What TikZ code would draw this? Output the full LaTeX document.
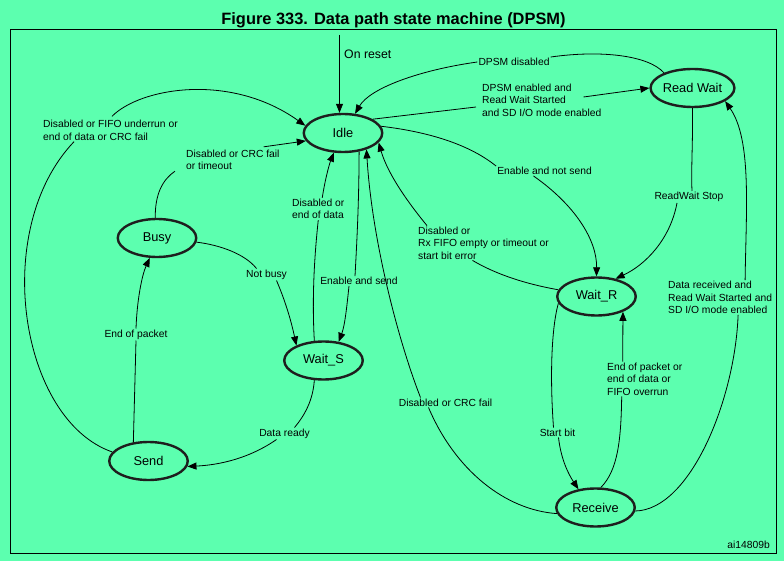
\documentclass[tikz,border=0pt]{standalone}
\usepackage{fontspec}
\setmainfont{Liberation Sans}
\usetikzlibrary{shapes.geometric,arrows.meta,calc}
\definecolor{bgc}{HTML}{5CFFAF}
\definecolor{ringc}{HTML}{1E1E1E}
\begin{document}
\begin{tikzpicture}[x=1pt,y=-1pt,
  state/.style={ellipse,draw=ringc,line width=2.4pt,minimum width=78.5pt,minimum height=38pt,inner sep=0pt,
    font=\fontsize{12.8}{15}\selectfont},
  lbl/.style={inner sep=1pt,align=left,font=\fontsize{10.3}{12.4}\selectfont},
  ln/.style={line width=0.8pt},
  arr/.style={line width=0.8pt,-{Triangle[length=9pt,width=7pt]}}]
\fill[bgc] (0,0) rectangle (784,561);
\useasboundingbox (0,0) rectangle (784,561);
\draw[line width=1pt] (10.5,30) rectangle (776,553);
\node[anchor=base,font=\bfseries\fontsize{16.4}{18}\selectfont] (title) at (393.5,25) {Figure 333. Data path state machine (DPSM)};

% states
\node[state] (idle) at (343,133) {Idle};
\node[state] (rw) at (692.5,88) {Read Wait};
\node[state] (busy) at (157,238) {Busy};
\node[state] (ws) at (323.5,360.5) {Wait\_S};
\node[state] (wr) at (596.5,296.5) {Wait\_R};
\node[state] (send) at (148.5,461) {Send};
\node[state] (rcv) at (595.5,507.5) {Receive};

% labels
\node[lbl,anchor=west,font=\fontsize{12.3}{14}\selectfont] (lOr) at (343,54) {On reset};
\node[lbl] (lDd) at (514,62) {DPSM disabled};
\node[lbl,anchor=west] (lRW) at (481,100) {DPSM enabled and\\Read Wait Started\\and SD I/O mode enabled};
\node[lbl] (lEns) at (544.5,171) {Enable and not send};
\node[lbl] (lRS) at (689,197) {ReadWait Stop};
\node[lbl,anchor=west] (lRx) at (417,243) {Disabled or\\Rx FIFO empty or timeout or\\start bit error};
\node[lbl,anchor=west] (lDr) at (667,297.5) {Data received and\\Read Wait Started and\\SD I/O mode enabled};
\node[lbl] (lSb) at (557.5,432.5) {Start bit};
\node[lbl,anchor=west] (lEp) at (606,379) {End of packet or\\end of data or\\FIFO overrun};
\node[lbl] (lDc) at (445.5,402.5) {Disabled or CRC fail};
\node[lbl] (lEs) at (359,281) {Enable and send};
\node[lbl,anchor=west] (lDe) at (291,209) {Disabled or\\end of data};
\node[lbl] (lNb) at (266.5,274.5) {Not busy};
\node[lbl,anchor=west] (lBc) at (185,160) {Disabled or CRC fail\\or timeout};
\node[lbl,anchor=west] (lDf) at (42,130.5) {Disabled or FIFO underrun or\\end of data or CRC fail};
\node[lbl] (lEoP) at (136,334.5) {End of packet};
\node[lbl] (lDry) at (284.5,433.5) {Data ready};
\node[lbl,anchor=east] (lai) at (771,545) {ai14809b};

% on reset
\coordinate (reset) at (339.5,35);
\draw[arr] (reset) -- (reset |- idle.north);

% Read Wait -> Idle : DPSM disabled
\draw[ln] (rw.152) .. controls (648,55) and (600,50) .. (lDd.north east);
\draw[arr] (lDd.west) .. controls (420,70) and (370,88) .. (idle.58);

% Idle -> Read Wait
\draw[ln] (idle.25) -- ([xshift=-5pt,yshift=-7pt]lRW.west);
\draw[arr] ([xshift=-19pt,yshift=3pt]lRW.east) -- (rw.west);

% Idle -> Wait_R
\draw[ln] (idle.10) .. controls (430,132) and (470,145) .. (lEns.north west);
\draw[arr] ([xshift=-11pt]lEns.south) .. controls (575,205) and (597,240) .. (wr.north);

% Read Wait -> Wait_R
\draw[ln] (rw.south) .. controls (693,140) and (691,170) .. ([xshift=3pt]lRS.north);
\draw[arr] ([xshift=-12pt]lRS.south) .. controls (670,240) and (645,265) .. (wr.43);

% Wait_R -> Idle
\draw[ln] (wr.170) .. controls (520,283) and (492,272) .. ([xshift=-11pt]lRx.south);
\draw[arr] ([xshift=10pt]lRx.north west) .. controls (410,205) and (388,175) .. (idle.-15);

% Receive -> Read Wait
\draw[ln] (rcv.-5) .. controls (690,510) and (735,400) .. ([xshift=18pt]lDr.south);
\draw[arr] ([xshift=25pt]lDr.north) .. controls (746,210) and (752,140) .. (rw.-22);

% Wait_R -> Receive
\draw[ln] (wr.190) .. controls (551,330) and (550,380) .. ([xshift=-4pt]lSb.north);
\draw[arr] ([xshift=1pt]lSb.south) .. controls (561,460) and (569,475) .. (rcv.133);

% Receive -> Wait_R
\draw[ln] (rcv.75) .. controls (618,470) and (621,440) .. ([xshift=-23pt]lEp.south);
\draw[arr] ([xshift=-22pt]lEp.north) -- (wr.-30);

% Receive -> Idle
\draw[ln] (rcv.189) .. controls (505,510) and (455,470) .. ([xshift=-17pt]lDc.south);
\draw[arr] ([xshift=-25pt]lDc.north) .. controls (398,340) and (372,240) .. (idle.-35);

% Idle -> Wait_S
\draw[ln] (idle.-49) .. controls (359,200) and (357,240) .. ([xshift=-4pt]lEs.north);
\draw[arr] ([xshift=-10pt]lEs.south) .. controls (347,305) and (345,325) .. (ws.51);

% Wait_S -> Idle
\draw[ln] (ws.115) .. controls (312,300) and (314,260) .. (lDe.south);
\draw[arr] ([xshift=4pt]lDe.north) .. controls (325,180) and (329,165) .. (idle.-115);

% Busy -> Wait_S
\draw[ln] (busy.-6) .. controls (220,245) and (245,254) .. ([xshift=-10pt]lNb.north);
\draw[arr] ([xshift=10pt]lNb.south) .. controls (287,305) and (292,325) .. (ws.151);

% Busy -> Idle
\draw[ln] (busy.95) .. controls (155,195) and (162,180) .. ([xshift=-10pt]lBc.south west);
\draw[arr] ([xshift=-17pt,yshift=2pt]lBc.north east) -- (idle.192);

% Send -> Idle
\draw[ln] (send.166) .. controls (20,420) and (-10,230) .. ([xshift=32pt]lDf.south west);
\draw[arr] ([xshift=70pt,yshift=3pt]lDf.north west) .. controls (140,88) and (230,72) .. (idle.169);

% Send -> Busy
\draw[ln] (send.129) -- (lEoP.south);
\draw[arr] (lEoP.north) .. controls (137,300) and (142,275) .. (busy.-110);

% Wait_S -> Send
\draw[ln] (ws.245) .. controls (313,400) and (305,415) .. ([xshift=10pt]lDry.north);
\draw[arr] ([xshift=-8pt]lDry.south) .. controls (250,458) and (220,465) .. (send.-8);
\end{tikzpicture}
\end{document}
